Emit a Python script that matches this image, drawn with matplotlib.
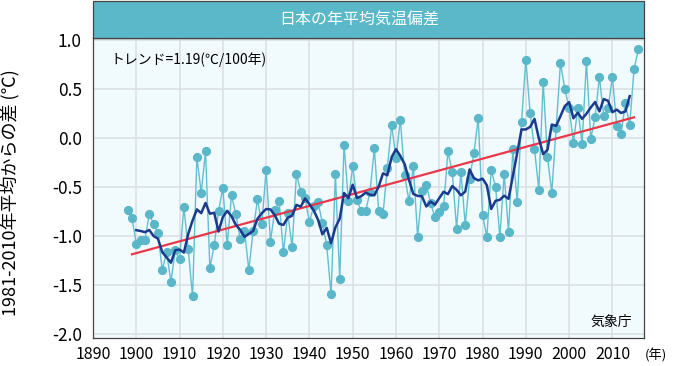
import numpy as np
import matplotlib
matplotlib.use("Agg")
from matplotlib import pyplot as plt
from matplotlib.patches import Rectangle

plt.rcParams['font.family'] = ['Noto Sans CJK JP', 'DejaVu Sans']

# annual mean temperature anomaly in Japan (deg C, vs 1981-2010)
years = np.arange(1898, 2017)
anomaly = [
    -0.74, -0.82, -1.08, -1.04, -1.04, -0.78, -0.88, -0.97, -1.35, -1.17,  # 1898-1907
    -1.47, -1.15, -1.24, -0.71, -1.14, -1.62, -0.20, -0.56, -0.14, -1.33,  # 1908-1917
    -1.10, -0.75, -0.51, -1.10, -0.59, -0.78, -1.03, -0.95, -1.35, -0.95,  # 1918-1927
    -0.63, -0.88, -0.33, -1.06, -0.74, -0.65, -1.17, -0.77, -1.12, -0.37,  # 1928-1937
    -0.55, -0.62, -0.86, -0.70, -0.66, -0.87, -1.10, -1.60, -0.37, -1.44,  # 1938-1947
    -0.07, -0.65, -0.29, -0.64, -0.75, -0.75, -0.55, -0.11, -0.75, -0.78,  # 1948-1957
    -0.31, 0.13, -0.21, 0.18, -0.38, -0.65, -0.29, -1.01, -0.54, -0.48,    # 1958-1967
    -0.67, -0.81, -0.76, -0.70, -0.14, -0.35, -0.93, -0.35, -0.89, -0.42,  # 1968-1977
    -0.16, 0.20, -0.79, -1.01, -0.33, -0.50, -1.01, -0.37, -0.96, -0.12,   # 1978-1987
    -0.66, 0.16, 0.79, 0.25, -0.12, -0.53, 0.57, -0.20, -0.56, 0.10,       # 1988-1997
    0.76, 0.50, 0.30, -0.05, 0.30, -0.06, 0.78, -0.01, 0.21, 0.62,         # 1998-2007
    0.22, 0.30, 0.62, 0.12, 0.04, 0.35, 0.13, 0.70, 0.90,                  # 2008-2016
]
anomaly = np.array(anomaly)

chart_title = "日本の年平均気温偏差"
trend_label = "トレンド=1.19(℃/100年)"
y_label = "1981-2010年平均からの差 (℃)"
source = "気象庁"
x_ticks = list(range(1890, 2011, 10))
y_ticks = [1.0, 0.5, 0.0, -0.5, -1.0, -1.5, -2.0]

# 5-year running mean and linear trend
run_mean = np.convolve(anomaly, np.ones(5) / 5, mode='valid')
run_years = years[2:-2]
coef = np.polyfit(years, anomaly, 1)
trend_years = years[1:-1]
trend = np.polyval(coef, trend_years)

W, H = 686, 366
fig = plt.figure(figsize=(W / 100, H / 100), dpi=100)
left, right, top, bottom = 93, 644, 38, 338
ax = fig.add_axes([left / W, 1 - bottom / H, (right - left) / W, (bottom - top) / H])
ax.set_facecolor('#f1fafd')

ax.plot(years, anomaly, color='#62bfd0', lw=1.0, marker='o', ms=5.6,
        mfc='#5ab6c9', mec='#5ab6c9', zorder=3)
ax.plot(trend_years, trend, color='#e8384a', lw=1.6, zorder=4)
ax.plot(run_years, run_mean, color='#1b3a8c', lw=1.8, zorder=5)

ax.set_xlim(1890, 2017.3)
ax.set_ylim(-2.044, 1.017)
ax.set_xticks(x_ticks)
ax.set_yticks(y_ticks)
ax.set_yticklabels(['%.1f' % v for v in y_ticks], fontsize=12.5)
ax.set_xticklabels([str(v) for v in x_ticks], fontsize=11.5)
ax.tick_params(length=0, pad=8)
ax.tick_params(axis='x', pad=6)
ax.grid(True, color='#dbe0e3', lw=1.2)
ax.set_axisbelow(True)
for s in ax.spines.values():
    s.set_color('#444444')
    s.set_linewidth(0.9)

# title bar
fig.patches.append(Rectangle((left / W, 1 - top / H), (right - left) / W, (top - 1) / H,
                             transform=fig.transFigure, facecolor='#5bb8c9',
                             edgecolor='#444444', lw=0.9))
fig.text(359 / W, 1 - 20 / H, chart_title, color='white', fontsize=11.5,
         ha='center', va='center')

ax.text(110 / W, 1 - 60 / H, trend_label, transform=fig.transFigure,
        fontsize=10, ha='left', va='center')
fig.text(632 / W, 1 - 322 / H, source, fontsize=10, ha='right', va='center')
fig.text(656 / W, 1 - 355 / H, "(年)", fontsize=9.5, ha='center', va='center')
fig.text(10 / W, 1 - 193 / H, y_label, fontsize=13, rotation=90,
         ha='center', va='center')

fig.savefig("out.png", dpi=100)
